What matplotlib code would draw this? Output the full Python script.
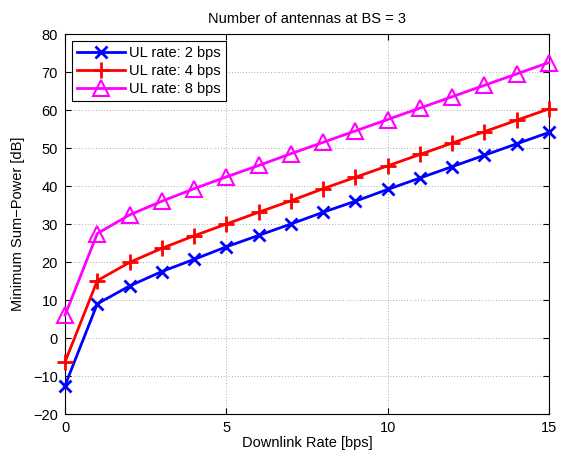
import numpy as np
import matplotlib
matplotlib.use("Agg")
import matplotlib.pyplot as plt

plt.rcParams['font.family'] = ['Liberation Sans', 'DejaVu Sans']
plt.rcParams['font.size'] = 10.5

# --- data ---
dl_rate = list(range(16))
ul_2bps = [-12.5, 9.0, 13.7, 17.5, 20.7, 24.0, 27.0, 30.0, 33.1, 36.0, 39.1, 42.1, 45.1, 48.1, 51.1, 54.1]
ul_4bps = [-6.3, 15.1, 19.9, 23.6, 26.9, 30.0, 33.1, 36.1, 39.3, 42.3, 45.3, 48.3, 51.3, 54.3, 57.3, 60.3]
ul_8bps = [6.0, 27.5, 32.4, 36.0, 39.3, 42.4, 45.4, 48.5, 51.5, 54.5, 57.5, 60.5, 63.5, 66.5, 69.5, 72.5]

fig = plt.figure(figsize=(5.63, 4.57), dpi=100)
ax = fig.add_axes([0.1155, 0.094, 0.8595, 0.8316])

ax.plot(dl_rate, ul_2bps, color='#0000ff', lw=2, marker='x', ms=9, mew=2,
        label='UL rate: 2 bps', clip_on=False, zorder=3)
ax.plot(dl_rate, ul_4bps, color='#ff0000', lw=2, marker='+', ms=12, mew=2,
        label='UL rate: 4 bps', clip_on=False, zorder=3)
ax.plot(dl_rate, ul_8bps, color='#ff00ff', lw=2, marker='^', ms=12, mew=1.5,
        mfc='none', label='UL rate: 8 bps', clip_on=False, zorder=3)

ax.set_xlim(0, 15)
ax.set_ylim(-20, 80)
ax.set_xticks([0, 5, 10, 15])
ax.set_yticks(np.arange(-20, 81, 10))
ax.grid(True, linestyle=(0, (1, 3)), color='#666666', lw=0.5)
ax.tick_params(direction='in', top=True, right=True, length=4, labelsize=10.5, pad=5)
for s in ax.spines.values():
    s.set_linewidth(0.8)

ax.set_xlabel('Downlink Rate [bps]', fontsize=10.5, labelpad=1)
ax.set_ylabel('Minimum Sum\u2212Power [dB]', fontsize=10.5, labelpad=6)
ax.set_title('Number of antennas at BS = 3', fontsize=10.5, pad=8)

leg = ax.legend(loc='upper left', fontsize=10.5, fancybox=False, framealpha=1,
                edgecolor='black', borderaxespad=0.45, handlelength=3.3,
                borderpad=0.35, labelspacing=0.28, handletextpad=0.3)
leg.get_frame().set_linewidth(0.8)
leg.set_zorder(5)

fig.savefig('out.png', dpi=100)
